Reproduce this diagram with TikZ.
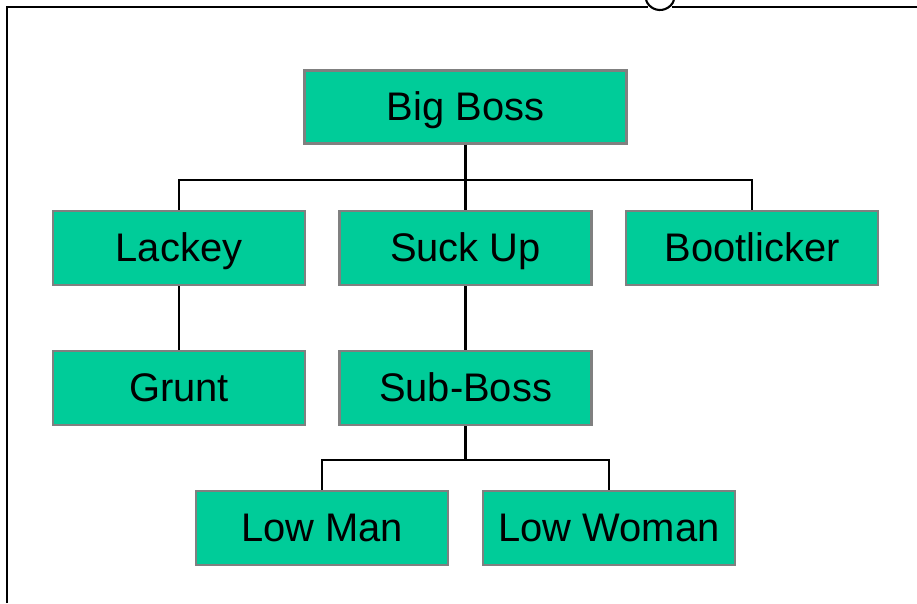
\documentclass[tikz,border=0pt]{standalone}
\usepackage{xcolor}
\usepackage{tikz}
\usepackage{fontspec}
\setmainfont{Liberation Sans}
\usetikzlibrary{positioning}
\definecolor{orgfill}{RGB}{0,204,153}
\definecolor{orgedge}{RGB}{128,128,128}

\begin{document}
\begin{tikzpicture}[
    node distance=2.8cm and 5.72cm,
    role/.style={rectangle, draw=orgedge, fill=orgfill, line width=1.5pt, minimum width=5.04cm, minimum height=1.48cm, inner sep=0pt, text height=0.64cm, text depth=0.12cm, font=\fontsize{22.7}{27}\selectfont},
    link/.style={line width=1.2pt, black},
    frame/.style={line width=1.2pt, black}
]
\useasboundingbox (0,0) rectangle (18.34,-12.06);

% Page frame
\draw[frame] (0.14,-12.06) -- (0.14,-0.14) -- (12.96,-0.14);
\draw[frame] (13.44,-0.14) -- (18.34,-0.14);
\draw[frame] (13.2,0.096) ++(199:0.296) arc (199:341:0.296);

% Row 1: Top
\node[role, minimum width=6.44cm, minimum height=1.46cm] (bigboss) at (9.31,-2.14) {Big Boss};

% Row 2: Direct reports
\node[role] (suckup) at (9.31,-4.96) {Suck Up};
\node[role, left of=suckup, node distance=5.73cm] (lackey) {Lackey};
\node[role, right of=suckup, node distance=5.73cm] (bootlicker) {Bootlicker};

% Row 3
\node[role, below of=lackey] (grunt) {Grunt};
\node[role, below of=suckup] (subboss) {Sub-Boss};

% Row 4
\node[role, below of=subboss, xshift=-2.87cm] (lowman) {Low Man};
\node[role, below of=subboss, xshift=2.87cm] (lowwoman) {Low Woman};

% Connections
\draw[link] (bigboss.south) -- ++(0,-0.7) -| (lackey.north);
\draw[link] (bigboss.south) -- (suckup.north);
\draw[link] (bigboss.south) -- ++(0,-0.7) -| (bootlicker.north);
\draw[link] (lackey.south) -- (grunt.north);
\draw[link] (suckup.south) -- (subboss.north);
\draw[link] (subboss.south) -- ++(0,-0.68) -| (lowman.north);
\draw[link] (subboss.south) -- ++(0,-0.68) -| (lowwoman.north);

\end{tikzpicture}
\end{document}
